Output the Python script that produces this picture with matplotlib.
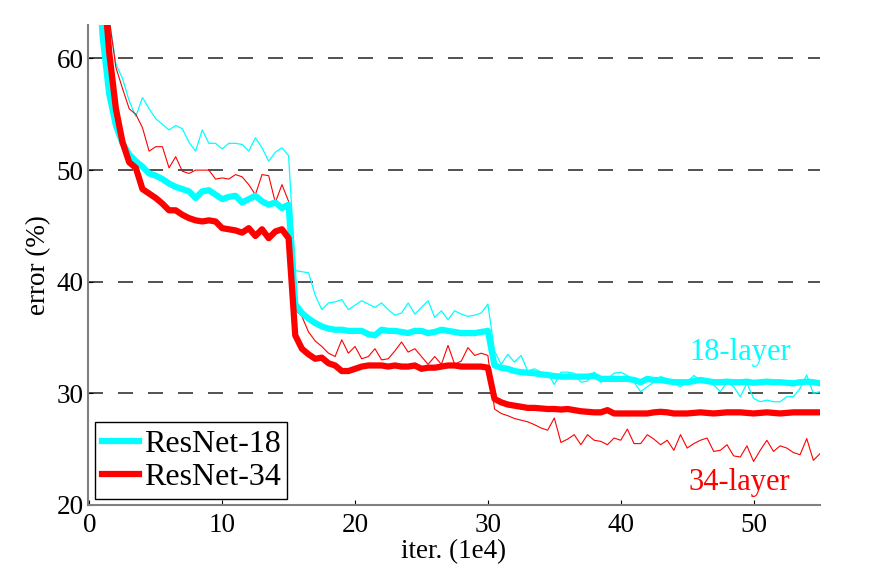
import numpy as np
import matplotlib
matplotlib.use("Agg")
import matplotlib.pyplot as plt

plt.rcParams['font.family'] = ['Liberation Serif', 'DejaVu Serif']
plt.rcParams['mathtext.fontset'] = 'stix'

# error (%) sampled every 0.5 (1e4 iter), starting at 0.5
train18 = [80, 70, 63.5, 59.5, 58.2, 56.2, 54.8, 56.5, 55.5, 54.6,
           54.1, 53.6, 54.0, 53.7, 52.5, 51.7, 53.6, 52.4, 52.4, 51.9,
           52.4, 52.4, 52.3, 51.7, 52.9, 52.0, 50.8, 51.6, 52.0, 51.3,
           41.0, 40.9, 40.8, 38.8, 37.5, 38.1, 38.2, 38.4, 37.5, 37.9,
           38.3, 38.0, 37.7, 38.1, 37.5, 37.0, 37.2, 38.1, 37.1, 37.7,
           38.3, 36.8, 37.4, 36.6, 37.4, 37.1, 36.9, 37.0, 37.2, 38.0,
           33.8, 32.6, 33.5, 32.8, 33.4, 32.0, 32.2, 31.9, 31.8, 30.8,
           31.9, 31.9, 31.8, 31.0, 31.1, 31.9, 31.0, 31.3, 31.8, 31.9,
           31.6, 31.0, 30.15, 30.6, 31.0, 31.5, 31.3, 30.9, 30.6, 31.0,
           31.6, 31.2, 31.2, 30.75, 30.15, 31.0, 30.6, 29.7, 30.9, 29.55,
           29.25, 29.4, 29.25, 29.25, 29.7, 29.7, 30.45, 31.65, 30.0, 30.15]

val18 = [72, 62.0, 56.8, 54.0, 52.4, 51.4, 50.8, 50.3, 49.7, 49.5,
         49.2, 48.8, 48.5, 48.3, 48.1, 47.5, 48.1, 48.2, 47.8, 47.4,
         47.6, 47.7, 47.1, 47.4, 47.7, 47.2, 46.9, 47.1, 46.6, 46.9,
         38.0, 37.2, 36.7, 36.3, 36.0, 35.8, 35.7, 35.7, 35.6, 35.6,
         35.6, 35.3, 35.2, 35.7, 35.6, 35.6, 35.5, 35.4, 35.6, 35.6,
         35.4, 35.5, 35.7, 35.6, 35.5, 35.4, 35.4, 35.4, 35.5, 35.6,
         32.5, 32.3, 32.2, 32.0, 31.9, 31.85, 31.8, 31.7, 31.65, 31.55,
         31.5, 31.5, 31.5, 31.5, 31.5, 31.6, 31.3, 31.3, 31.3, 31.3,
         31.3, 31.2, 31.0, 31.3, 31.2, 31.2, 31.1, 31.0, 31.0, 31.0,
         31.1, 31.2, 31.1, 31.0, 31.0, 31.05, 31.0, 31.0, 31.05, 30.95,
         31.0, 31.05, 31.0, 31.0, 30.95, 30.9, 31.0, 31.05, 31.0, 30.9]

train34 = [82, 72, 63.5, 59.2, 57.3, 55.5, 55.0, 53.8, 51.7, 52.1,
           52.1, 50.2, 51.2, 49.9, 49.7, 50.0, 50.0, 50.0, 49.2, 49.3,
           49.2, 49.6, 49.4, 48.7, 47.8, 49.6, 49.5, 47.1, 48.7, 47.2,
           37.5, 36.9, 35.5, 34.7, 34.2, 33.6, 33.3, 34.8, 33.6, 34.2,
           33.1, 33.3, 34.0, 33.0, 33.1, 33.8, 34.6, 33.7, 34.0, 33.3,
           32.6, 33.3, 32.6, 34.3, 32.6, 32.9, 34.1, 33.4, 33.6, 33.4,
           28.6, 28.2, 28.0, 27.75, 27.6, 27.45, 27.2, 26.9, 26.7, 27.8,
           25.6, 25.9, 26.3, 25.4, 26.3, 25.8, 25.7, 25.4, 26.0, 25.8,
           26.8, 25.5, 25.5, 26.3, 25.9, 25.4, 25.8, 24.9, 26.3, 25.1,
           25.5, 25.8, 26.0, 24.8, 24.9, 25.4, 24.4, 24.3, 25.3, 23.9,
           24.9, 25.8, 24.8, 25.3, 25.1, 24.7, 24.5, 25.95, 24.0, 24.6]

val34 = [80, 68, 60.5, 55.5, 52.5, 50.7, 50.2, 48.3, 47.9, 47.5,
         47.0, 46.4, 46.4, 46.0, 45.7, 45.5, 45.4, 45.5, 45.4, 44.8,
         44.7, 44.6, 44.4, 44.8, 44.1, 44.7, 43.9, 44.5, 44.7, 43.9,
         35.2, 34.0, 33.5, 33.1, 33.2, 32.7, 32.5, 32.0, 32.0, 32.2,
         32.4, 32.5, 32.5, 32.5, 32.4, 32.5, 32.4, 32.4, 32.5, 32.2,
         32.3, 32.3, 32.4, 32.5, 32.5, 32.4, 32.4, 32.4, 32.4, 32.3,
         29.5, 29.2, 29.0, 28.9, 28.8, 28.7, 28.7, 28.65, 28.6, 28.6,
         28.55, 28.6, 28.5, 28.4, 28.35, 28.3, 28.3, 28.5, 28.2, 28.2,
         28.2, 28.2, 28.2, 28.2, 28.3, 28.35, 28.3, 28.2, 28.2, 28.2,
         28.25, 28.3, 28.25, 28.2, 28.25, 28.3, 28.3, 28.3, 28.25, 28.2,
         28.25, 28.3, 28.25, 28.2, 28.25, 28.3, 28.3, 28.3, 28.3, 28.3]

xticks = [0, 10, 20, 30, 40, 50]
yticks = [20, 30, 40, 50, 60]

it = 0.5 * np.arange(1, len(val18) + 1)

CYAN = '#00ffff'
RED = '#ff0000'

fig = plt.figure(figsize=(8.79, 5.69), dpi=100)
ax = fig.add_axes([88/879, 1 - 505/569, 732/879, 480/569])

for yv in yticks:
    ax.axhline(yv, color='#333333', lw=1.2, dashes=(9, 9), zorder=0)

ax.plot(it, train18, color=CYAN, lw=0.9, zorder=2)
ax.plot(it, train34, color=RED, lw=0.8, zorder=2)
ax.plot(it, val18, color=CYAN, lw=4.5, zorder=3, label='ResNet-18',
        solid_joinstyle='round')
ax.plot(it, val34, color=RED, lw=4.5, zorder=4, label='ResNet-34',
        solid_joinstyle='round')

ax.set_xlim(-0.1, 55)
ax.set_ylim(20, 63)
ax.set_xticks(xticks)
ax.set_yticks(yticks)

for s in ['top', 'right']:
    ax.spines[s].set_visible(False)
for s in ['left', 'bottom']:
    ax.spines[s].set_color('#808080')
    ax.spines[s].set_linewidth(1.5)
    ax.spines[s].set_zorder(5)

ax.tick_params(direction='in', length=3.5, width=0.8, color='black',
               labelsize=19.5)
ax.tick_params(axis='x', pad=6)
ax.tick_params(axis='y', pad=3)

ax.set_xlabel('iter. (1e4)', fontsize=19.5, labelpad=0.5)
ax.set_ylabel('error (%)', fontsize=19.5, labelpad=4)

ax.text(45.2, 33.0, '18-layer', color=CYAN, fontsize=22, va='baseline')
ax.text(45.1, 21.3, '34-layer', color=RED, fontsize=22, va='baseline')

leg = ax.legend(loc='lower left', bbox_to_anchor=(0.0096, 0.0125),
                borderaxespad=0, fontsize=23, fancybox=False, framealpha=1,
                edgecolor='black', handlelength=1.15, handletextpad=0.15,
                labelspacing=0.12, borderpad=0.22)
leg.get_frame().set_linewidth(1.0)
leg.set_zorder(6)

fig.savefig('out.png', dpi=100)
